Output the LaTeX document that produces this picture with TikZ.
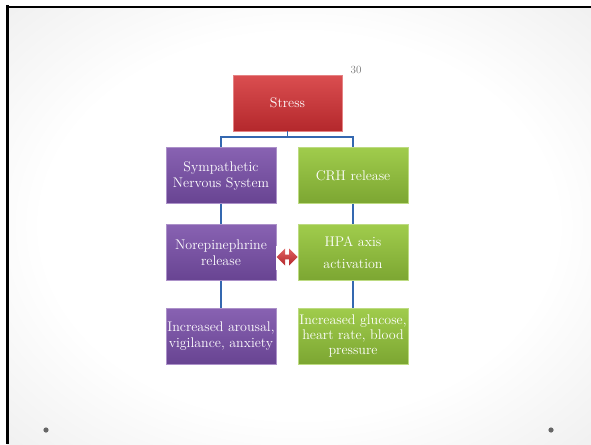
\documentclass[tikz,border=0pt]{standalone}
\usetikzlibrary{shapes.arrows}
\definecolor{redtop}{RGB}{218,78,80}
\definecolor{redbot}{RGB}{180,40,44}
\definecolor{purtop}{RGB}{136,98,178}
\definecolor{purbot}{RGB}{104,68,146}
\definecolor{grntop}{RGB}{160,204,76}
\definecolor{grnbot}{RGB}{124,166,50}
\definecolor{conn}{RGB}{52,104,176}
\definecolor{arrred}{RGB}{214,58,58}
\definecolor{bgmid}{RGB}{230,230,230}
\definecolor{bgedge}{RGB}{208,208,208}
\pgfdeclareradialshading{bgshade}{\pgfpoint{0bp}{0bp}}{color(0bp)=(white); color(22bp)=(white); color(45bp)=(bgmid); color(60bp)=(bgedge); color(100bp)=(bgedge)}
\tikzset{
  box/.style={rectangle, minimum width=110pt, minimum height=56pt, inner sep=1pt,
    text=white, align=center, font=\fontsize{14}{16}\selectfont},
  redbox/.style={box, top color=redtop, bottom color=redbot, draw=redtop!70!white, line width=0.5pt, minimum width=109pt},
  purbox/.style={box, top color=purtop, bottom color=purbot, draw=purtop!70!white, line width=0.5pt},
  grnbox/.style={box, top color=grntop, bottom color=grnbot, draw=grntop!70!white, line width=0.5pt},
  link/.style={draw=conn, line width=1.5pt},
}
\begin{document}
\begin{tikzpicture}[x=1pt,y=-1pt]
\useasboundingbox (0,0) rectangle (591,444);
\fill[white] (0,0) rectangle (591,444);
\shade[shading=bgshade] (7,7) rectangle (591,444);
\draw[black, line width=3pt] (7.5,5.5) -- (7.5,444);
\draw[black, line width=2.5pt] (6,7) -- (591,7);
\fill[gray!80!black] (46,430) circle (2.6pt);
\fill[gray!80!black] (551,430) circle (2.6pt);

\node[redbox] (stress) at (287.5,103) {Stress};
\node[text=gray!90!black, font=\fontsize{11}{12}\selectfont] (num) at (356,70) {30};

\node[purbox] (sym) at (221,175.5) {Sympathetic\\Nervous System};
\node[grnbox] (crh) at (353,175.5) {CRH release};
\node[purbox] (nor) at (221,252.5) {Norepinephrine\\release};
\node[grnbox, font=\fontsize{14}{22}\selectfont] (hpa) at (353,252.5) {HPA axis\\activation};
\node[purbox] (aro) at (221,336) {Increased arousal,\\vigilance, anxiety};
\node[grnbox, font=\fontsize{14}{15}\selectfont] (glu) at (353,336) {Increased glucose,\\heart rate, blood\\pressure};

\coordinate (split) at (287.5,137);
\draw[link] (stress.south) -- (split) -| (sym.north);
\draw[link] (split) -| (crh.north);
\draw[link] (sym.south) -- (nor.north);
\draw[link] (crh.south) -- (hpa.north);
\draw[link] (nor.south) -- (aro.north);
\draw[link] (hpa.south) -- (glu.north);

\fill[white] (nor.east |- 0,246) rectangle (hpa.west |- 0,270);
\node[double arrow, double arrow head extend=3pt, minimum height=21pt, minimum width=17pt, inner sep=1pt,
  top color=arrred!80!white, bottom color=redbot, draw=none] (dbl) at (287,257) {};
\end{tikzpicture}
\end{document}
